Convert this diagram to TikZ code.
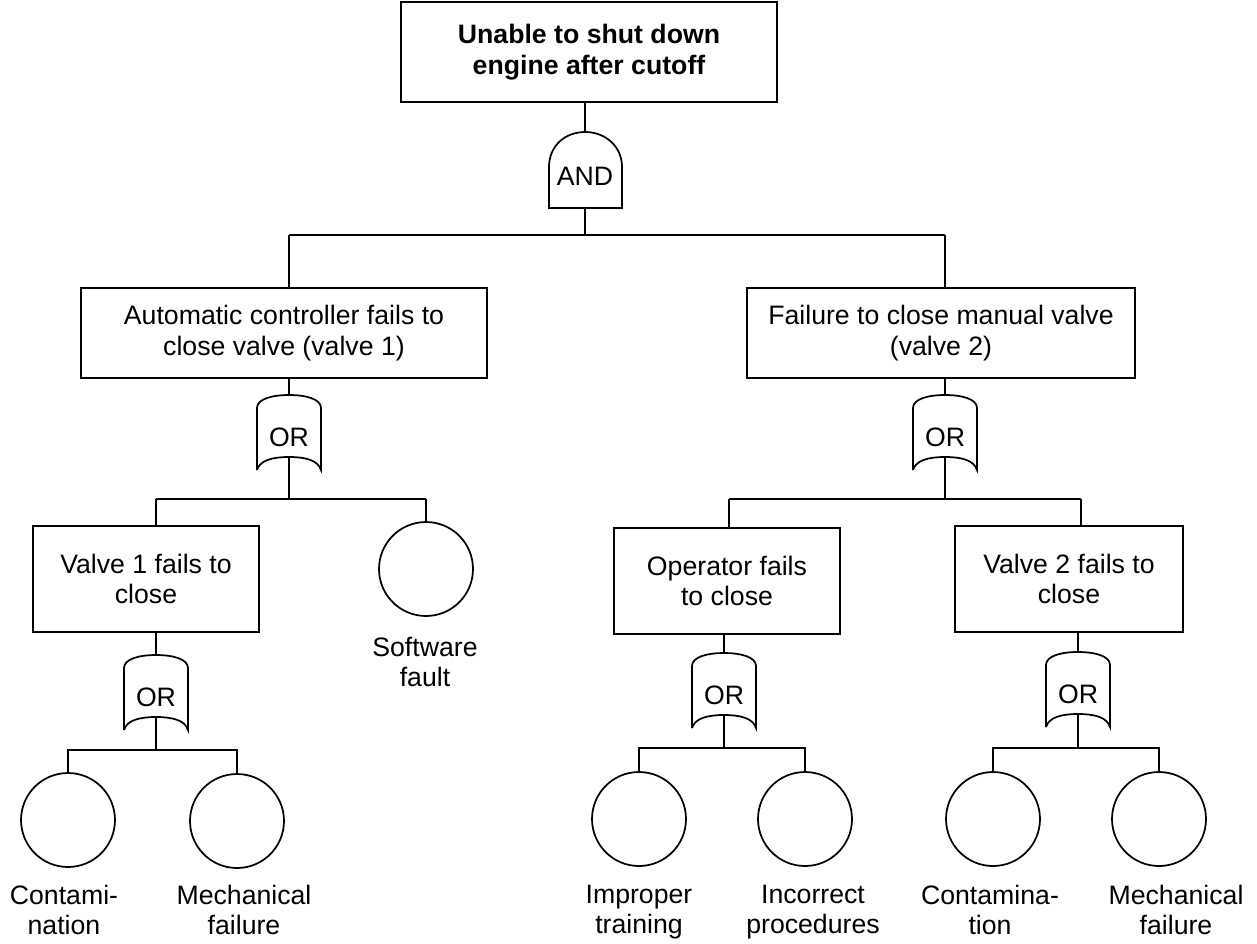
\documentclass[tikz,border=0pt]{standalone}
\usepackage{fontspec}
\setmainfont{Liberation Sans}
\begin{document}
\begin{tikzpicture}[x=0.75pt,y=-0.75pt,line width=1.3pt,
  every node/.style={font=\fontsize{20pt}{23pt}\selectfont, align=center, inner sep=0pt},
  evbox/.style={draw, rectangle},
  basic/.style={draw, circle, minimum size=70.5pt},
  glabel/.style={font=\fontsize{20pt}{23pt}\selectfont},
  elabel/.style={anchor=north, align=center}]
\useasboundingbox (0,0) rectangle (1257,943);
\newcommand\ORgate[3]{%
  \draw ({#1-32},{#2+75}) -- ({#1-32},{#2+13})
    .. controls ({#1-32},{#2+4}) and ({#1-17},{#2}) .. (#1,#2)
    .. controls ({#1+17},{#2}) and ({#1+32},{#2+4}) .. ({#1+32},{#2+13})
    -- ({#1+32},{#2+75})
    .. controls ({#1+29},{#2+65}) and ({#1+16},{#2+62}) .. (#1,{#2+62})
    .. controls ({#1-16},{#2+62}) and ({#1-29},{#2+65}) .. ({#1-32},{#2+75});
  \node[glabel] (#3) at (#1,{#2+42}) {OR};
  \coordinate (#3-in) at (#1,#2);
  \coordinate (#3-out) at (#1,{#2+62});
}
% top event
\node[evbox, minimum width=282pt, minimum height=75pt] (top) at (589,52)
  {\textbf{Unable to shut down}\\\textbf{engine after cutoff}};
% AND gate
\draw (549,208) -- (549,167)
  .. controls (549,146) and (565,132) .. (585,132)
  .. controls (605,132) and (622,146) .. (622,167) -- (622,208) -- cycle;
\node[glabel] (and) at (585,176) {AND};
\coordinate (and-in) at (585,132);
\coordinate (and-out) at (585,208);
\draw (top.south -| and-in) -- (and-in);
% level 1
\node[evbox, minimum width=304pt, minimum height=67.5pt] (auto) at (284,333)
  {Automatic controller fails to\\close valve (valve 1)};
\node[evbox, minimum width=291pt, minimum height=67.5pt] (manual) at (941,333)
  {Failure to close manual valve\\(valve 2)};
\coordinate (b0l) at (289,235);
\coordinate (b0r) at (945,235);
\draw (and-out) -- (and-out |- b0l);
\draw (b0l) -- (b0r);
\draw (b0l) -- (b0l |- auto.north);
\draw (b0r) -- (b0r |- manual.north);
% OR gates level 1
\ORgate{289}{395}{or1}
\ORgate{945}{395}{or2}
\draw (or1-in |- auto.south) -- (or1-in);
\draw (or2-in |- manual.south) -- (or2-in);
% level 2 left
\node[evbox, minimum width=170pt, minimum height=80pt] (v1) at (146,579)
  {Valve 1 fails to\\close};
\node[basic] (sw) at (426,569) {};
\node[elabel] (swl) at (425,636) {Software\\fault};
\coordinate (b1l) at (156,499);
\coordinate (b1r) at (426,499);
\draw (or1-out) -- (or1-out |- b1l);
\draw (b1l) -- (b1r);
\draw (b1l) -- (b1l |- v1.north);
\draw (b1r) -- (sw.north);
% level 2 right
\node[evbox, minimum width=170pt, minimum height=80pt] (op) at (727,581)
  {Operator fails\\to close};
\node[evbox, minimum width=171pt, minimum height=80pt] (v2) at (1069,579)
  {Valve 2 fails to\\close};
\coordinate (b2l) at (729,499);
\coordinate (b2r) at (1081,499);
\draw (or2-out) -- (or2-out |- b2l);
\draw (b2l) -- (b2r);
\draw (b2l) -- (b2l |- op.north);
\draw (b2r) -- (b2r |- v2.north);
% OR gates level 2
\ORgate{156}{655}{or3}
\ORgate{724}{653}{or4}
\ORgate{1078}{652}{or5}
\draw (or3-in |- v1.south) -- (or3-in);
\draw (or4-in |- op.south) -- (or4-in);
\draw (or5-in |- v2.south) -- (or5-in);
% basic events
\node[basic] (c1) at (68,820) {};
\node[basic] (m1) at (237,821) {};
\node[basic] (it) at (639,819) {};
\node[basic] (ip) at (805,819) {};
\node[basic] (c2) at (993,819) {};
\node[basic] (m2) at (1159,819) {};
\coordinate (b3) at (156,750);
\coordinate (b4) at (724,748);
\coordinate (b5) at (1078,748);
\draw (or3-out) -- (b3);
\draw (c1.north) |- (b3) -| (m1.north);
\draw (or4-out) -- (b4);
\draw (it.north) |- (b4) -| (ip.north);
\draw (or5-out) -- (b5);
\draw (c2.north) |- (b5) -| (m2.north);
\node[elabel] (c1l) at (64,884) {Contami-\\nation};
\node[elabel] (m1l) at (244,884) {Mechanical\\failure};
\node[elabel] (itl) at (639,884) {Improper\\training};
\node[elabel] (ipl) at (813,884) {Incorrect\\procedures};
\node[elabel] (c2l) at (990,884) {Contamina-\\tion};
\node[elabel] (m2l) at (1176,884) {Mechanical\\failure};
\end{tikzpicture}
\end{document}
